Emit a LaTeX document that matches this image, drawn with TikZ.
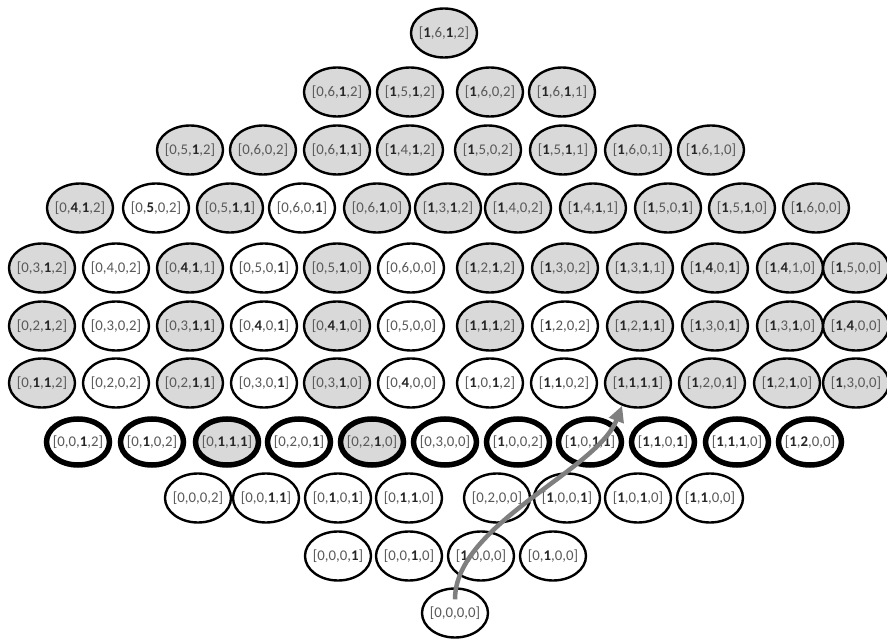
\documentclass[tikz,border=0pt]{standalone}
\usepackage{fontspec}
\setmainfont{Carlito}
\usetikzlibrary{shapes.geometric,arrows.meta}
\definecolor{cellgray}{HTML}{D9D9D9}
\definecolor{txtgray}{HTML}{595959}
\definecolor{arrowgray}{HTML}{7F7F7F}
\newcommand\bd[1]{\textbf{\color{black!85}#1}}
\tikzset{
  state/.style={ellipse, draw=black, line width=2.4pt, minimum width=66pt,
    minimum height=49pt, inner xsep=-12pt, inner ysep=0pt, fill=white,
    text=txtgray, font=\fontsize{14.8}{16}\selectfont},
  shaded/.style={state, fill=cellgray},
  heavy/.style={line width=5.5pt, minimum width=63pt, minimum height=46pt},
  path arrow/.style={draw=arrowgray, line width=4.5pt,
    -{Triangle[length=16pt,width=15pt]}}
}
\begin{document}
\begin{tikzpicture}[x=1pt,y=-1pt]
\useasboundingbox (0,0) rectangle (887,644);
% top
\node[shaded] (r1c1) at (444,33) {[\bd{1},6,\bd{1},2]};
% row 2
\node[shaded] (r2c1) at (337,92) {[0,6,\bd{1},2]};
\node[shaded] (r2c2) at (410,92) {[\bd{1},5,\bd{1},2]};
\node[shaded] (r2c3) at (490,92) {[\bd{1},6,0,2]};
\node[shaded] (r2c4) at (562,92) {[\bd{1},6,\bd{1},1]};
% row 3
\node[shaded] (r3c1) at (190,150) {[0,5,\bd{1},2]};
\node[shaded] (r3c2) at (263,150) {[0,6,0,2]};
\node[shaded] (r3c3) at (337,150) {[0,6,\bd{1},\bd{1}]};
\node[shaded] (r3c4) at (410,150) {[\bd{1},4,\bd{1},2]};
\node[shaded] (r3c5) at (488,150) {[\bd{1},5,0,2]};
\node[shaded] (r3c6) at (563,150) {[\bd{1},5,\bd{1},1]};
\node[shaded] (r3c7) at (638,150) {[\bd{1},6,0,1]};
\node[shaded] (r3c8) at (711,150) {[\bd{1},6,1,0]};
% row 4
\node[shaded] (r4c1) at (80,208) {[0,\bd{4},\bd{1},2]};
\node[state]  (r4c2) at (156,208) {[0,\bd{5},0,2]};
\node[shaded] (r4c3) at (230,208) {[0,5,\bd{1},\bd{1}]};
\node[state]  (r4c4) at (302,208) {[0,6,0,\bd{1}]};
\node[shaded] (r4c5) at (377,208) {[0,6,\bd{1},0]};
\node[shaded] (r4c6) at (448,208) {[\bd{1},3,\bd{1},2]};
\node[shaded] (r4c7) at (518,208) {[\bd{1},4,0,2]};
\node[shaded] (r4c8) at (593,208) {[\bd{1},4,\bd{1},1]};
\node[shaded] (r4c9) at (668,208) {[\bd{1},5,0,\bd{1}]};
\node[shaded] (r4c10) at (742,208) {[\bd{1},5,\bd{1},0]};
\node[shaded] (r4c11) at (816,208) {[\bd{1},6,0,0]};
% row 5
\node[shaded] (r5c1) at (42,268) {[0,3,\bd{1},2]};
\node[state]  (r5c2) at (116,268) {[0,4,0,2]};
\node[shaded] (r5c3) at (190,268) {[0,\bd{4},\bd{1},1]};
\node[state]  (r5c4) at (264,268) {[0,5,0,\bd{1}]};
\node[shaded] (r5c5) at (337,268) {[0,5,\bd{1},0]};
\node[state]  (r5c6) at (411,268) {[0,6,0,0]};
\node[shaded] (r5c7) at (490,268) {[\bd{1},2,\bd{1},2]};
\node[shaded] (r5c8) at (565,268) {[\bd{1},3,0,2]};
\node[shaded] (r5c9) at (640,268) {[\bd{1},3,\bd{1},1]};
\node[shaded] (r5c10) at (715,268) {[\bd{1},\bd{4},0,\bd{1}]};
\node[shaded] (r5c11) at (790,268) {[\bd{1},\bd{4},1,0]};
\node[shaded] (r5c12) at (856,268) {[\bd{1},5,0,0]};
% row 6
\node[shaded] (r6c1) at (42,326) {[0,2,\bd{1},2]};
\node[state]  (r6c2) at (116,326) {[0,3,0,2]};
\node[shaded] (r6c3) at (190,326) {[0,3,\bd{1},\bd{1}]};
\node[state]  (r6c4) at (264,326) {[0,\bd{4},0,\bd{1}]};
\node[shaded] (r6c5) at (337,326) {[0,\bd{4},\bd{1},0]};
\node[state]  (r6c6) at (411,326) {[0,5,0,0]};
\node[shaded] (r6c7) at (490,326) {[\bd{1},\bd{1},\bd{1},2]};
\node[state]  (r6c8) at (565,326) {[\bd{1},2,0,2]};
\node[shaded] (r6c9) at (640,326) {[\bd{1},2,\bd{1},\bd{1}]};
\node[shaded] (r6c10) at (715,326) {[\bd{1},3,0,\bd{1}]};
\node[shaded] (r6c11) at (790,326) {[\bd{1},3,\bd{1},0]};
\node[shaded] (r6c12) at (856,326) {[\bd{1},\bd{4},0,0]};
% row 7
\node[shaded] (r7c1) at (42,383) {[0,\bd{1},\bd{1},2]};
\node[state]  (r7c2) at (116,383) {[0,2,0,2]};
\node[shaded] (r7c3) at (190,383) {[0,2,\bd{1},\bd{1}]};
\node[state]  (r7c4) at (264,383) {[0,3,0,\bd{1}]};
\node[shaded] (r7c5) at (337,383) {[0,3,\bd{1},0]};
\node[state]  (r7c6) at (411,383) {[0,\bd{4},0,0]};
\node[state]  (r7c7) at (490,383) {[\bd{1},0,\bd{1},2]};
\node[state]  (r7c8) at (564,383) {[\bd{1},\bd{1},0,2]};
\node[shaded] (r7c9) at (638,383) {[\bd{1},\bd{1},\bd{1},\bd{1}]};
\node[shaded] (r7c10) at (712,383) {[\bd{1},2,0,\bd{1}]};
\node[shaded] (r7c11) at (787,383) {[\bd{1},2,\bd{1},0]};
\node[shaded] (r7c12) at (856,383) {[\bd{1},3,0,0]};
% row 8 (heavy outline)
\node[state,heavy]  (r8c1) at (78,442) {[0,0,\bd{1},2]};
\node[state,heavy]  (r8c2) at (152,442) {[0,\bd{1},0,2]};
\node[shaded,heavy] (r8c3) at (227,442) {[0,\bd{1},\bd{1},\bd{1}]};
\node[state,heavy]  (r8c4) at (299,442) {[0,2,0,\bd{1}]};
\node[shaded,heavy] (r8c5) at (372,442) {[0,2,\bd{1},0]};
\node[state,heavy]  (r8c6) at (445,442) {[0,3,0,0]};
\node[state,heavy]  (r8c7) at (518,442) {[\bd{1},0,0,2]};
\node[state,heavy]  (r8c8) at (590,442) {[\bd{1},0,\bd{1},\bd{1}]};
\node[state,heavy]  (r8c9) at (663,442) {[\bd{1},\bd{1},0,\bd{1}]};
\node[state,heavy]  (r8c10) at (737,442) {[\bd{1},\bd{1},\bd{1},0]};
\node[state,heavy]  (r8c11) at (810,442) {[\bd{1},\bd{2},0,0]};
% row 9
\node[state] (r9c1) at (198,498) {[0,0,0,2]};
\node[state] (r9c2) at (266,498) {[0,0,\bd{1},\bd{1}]};
\node[state] (r9c3) at (338,498) {[0,\bd{1},0,\bd{1}]};
\node[state] (r9c4) at (409,498) {[0,\bd{1},\bd{1},0]};
\node[state] (r9c5) at (497,498) {[0,2,0,0]};
\node[state] (r9c6) at (567,498) {[\bd{1},0,0,\bd{1}]};
\node[state] (r9c7) at (638,498) {[\bd{1},0,\bd{1},0]};
\node[state] (r9c8) at (710,498) {[\bd{1},\bd{1},0,0]};
% row 10
\node[state] (r10c1) at (338,556) {[0,0,0,\bd{1}]};
\node[state] (r10c2) at (409,556) {[0,0,\bd{1},0]};
\node[state] (r10c3) at (481,556) {[\bd{1},0,0,0]};
\node[state] (r10c4) at (553,556) {[0,\bd{1},0,0]};
% bottom
\node[state] (r11c1) at (455,613) {[0,0,0,0]};
% path from the origin state up to [1,1,1,1]
\draw[path arrow] ([yshift=-12pt]r11c1.north) .. controls +(0,-75) and +(-25,65) .. (r7c9.235);
\end{tikzpicture}
\end{document}
